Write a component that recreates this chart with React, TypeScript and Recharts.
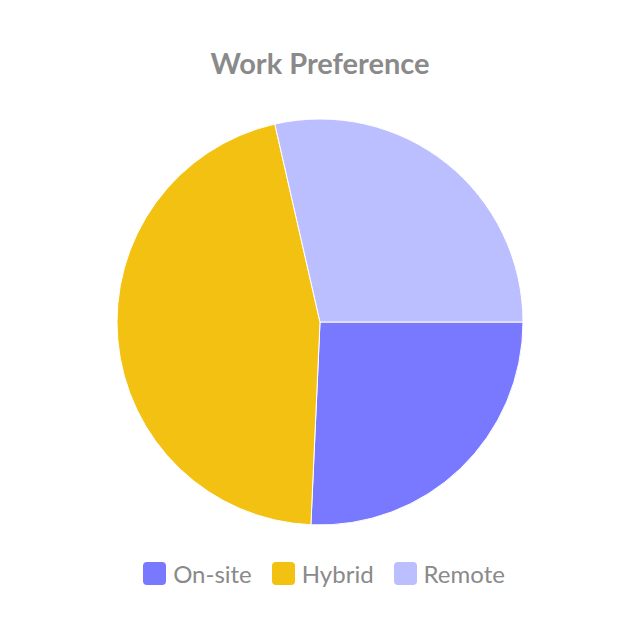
import React from "react";
import { PieChart, Pie, Cell, Legend } from "recharts";

const categories = ["On-site", "Hybrid", "Remote"];
const values = [9, 16, 10];
const colors = ["#7879FF", "#F2C112", "#BBBEFF"];
const title = "Work Preference";

const data = categories.map((name, i) => ({ name, value: values[i] }));

const FONT = "Lato, 'Open Sans', sans-serif";
const GRAY = "#8a8a8a";

const renderLegend = () => (
  <div
    style={{
      display: "flex",
      justifyContent: "center",
      alignItems: "center",
      fontFamily: FONT,
      fontSize: 24,
      color: GRAY,
      paddingLeft: 8,
    }}
  >
    {categories.map((c, i) => (
      <div key={c} style={{ display: "flex", alignItems: "center", margin: "0 10px" }}>
        <span
          style={{
            display: "inline-block",
            width: 23,
            height: 23,
            borderRadius: 4,
            background: colors[i],
            marginRight: 7,
          }}
        />
        <span>{c}</span>
      </div>
    ))}
  </div>
);

export default function App() {
  return (
    <div style={{ position: "absolute", left: 0, top: 0, width: 640, height: 640, background: "#fff" }}>
      <div
        style={{
          position: "absolute",
          top: 45,
          left: 0,
          width: 640,
          textAlign: "center",
          fontFamily: FONT,
          fontWeight: 700,
          fontSize: 29,
          color: GRAY,
        }}
      >
        {title}
      </div>
      <PieChart width={640} height={640} margin={{ top: 0, right: 0, bottom: 0, left: 0 }}>
        <Pie
          data={data}
          dataKey="value"
          nameKey="name"
          cx={320}
          cy={322}
          outerRadius={203}
          startAngle={0}
          endAngle={-360}
          stroke="#fff"
          strokeWidth={1}
          isAnimationActive={false}
        >
          {data.map((d, i) => (
            <Cell key={d.name} fill={colors[i]} />
          ))}
        </Pie>
        <Legend content={renderLegend} wrapperStyle={{ top: 559, left: 0, width: 640 }} />
      </PieChart>
    </div>
  );
}
